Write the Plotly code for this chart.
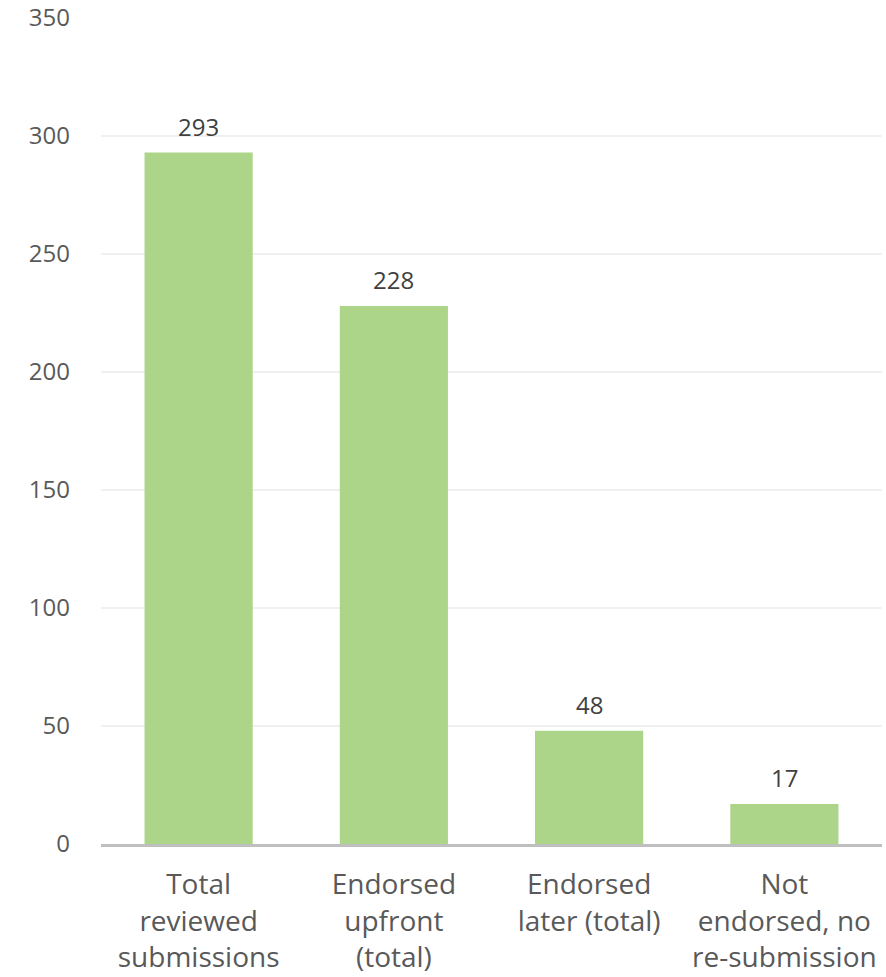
import plotly.graph_objects as go

categories = ["Total<br>reviewed<br>submissions", "Endorsed<br>upfront<br>(total)",
              "Endorsed<br>later (total)", "Not<br>endorsed, no<br>re-submission"]
values = [293, 228, 48, 17]
y_ticks = [0, 50, 100, 150, 200, 250, 300, 350]

FONT = "Open Sans, DejaVu Sans, sans-serif"

fig = go.Figure(go.Bar(
    x=categories, y=values,
    marker=dict(color="#add58a", line=dict(width=0)),
    hoverinfo="skip",
))

for c, v in zip(categories, values):
    fig.add_annotation(x=c, y=v, text=str(v), showarrow=False,
                       yanchor="bottom", yshift=8,
                       font=dict(family=FONT, size=24, color="#404040"))

fig.update_layout(
    width=886, height=977,
    margin=dict(l=101, r=4, t=18, b=133),
    paper_bgcolor="white", plot_bgcolor="white",
    bargap=0.446,
    showlegend=False,
    font=dict(family=FONT, color="#595959"),
)
fig.update_xaxes(
    showgrid=False, showline=True, linecolor="#bfbfbf", linewidth=2.5,
    ticks="", tickfont=dict(family=FONT, size=28, color="#595959"),
    ticklabelstandoff=14, automargin=False,
)
fig.update_yaxes(
    range=[0, 350], tickvals=y_ticks, showgrid=True, gridcolor="#f0f0f0", gridwidth=1.5,
    zeroline=False, showline=False, ticks="",
    tickfont=dict(family=FONT, size=24, color="#595959"),
    ticklabelstandoff=30, automargin=False,
)

fig.write_html("out.html")
